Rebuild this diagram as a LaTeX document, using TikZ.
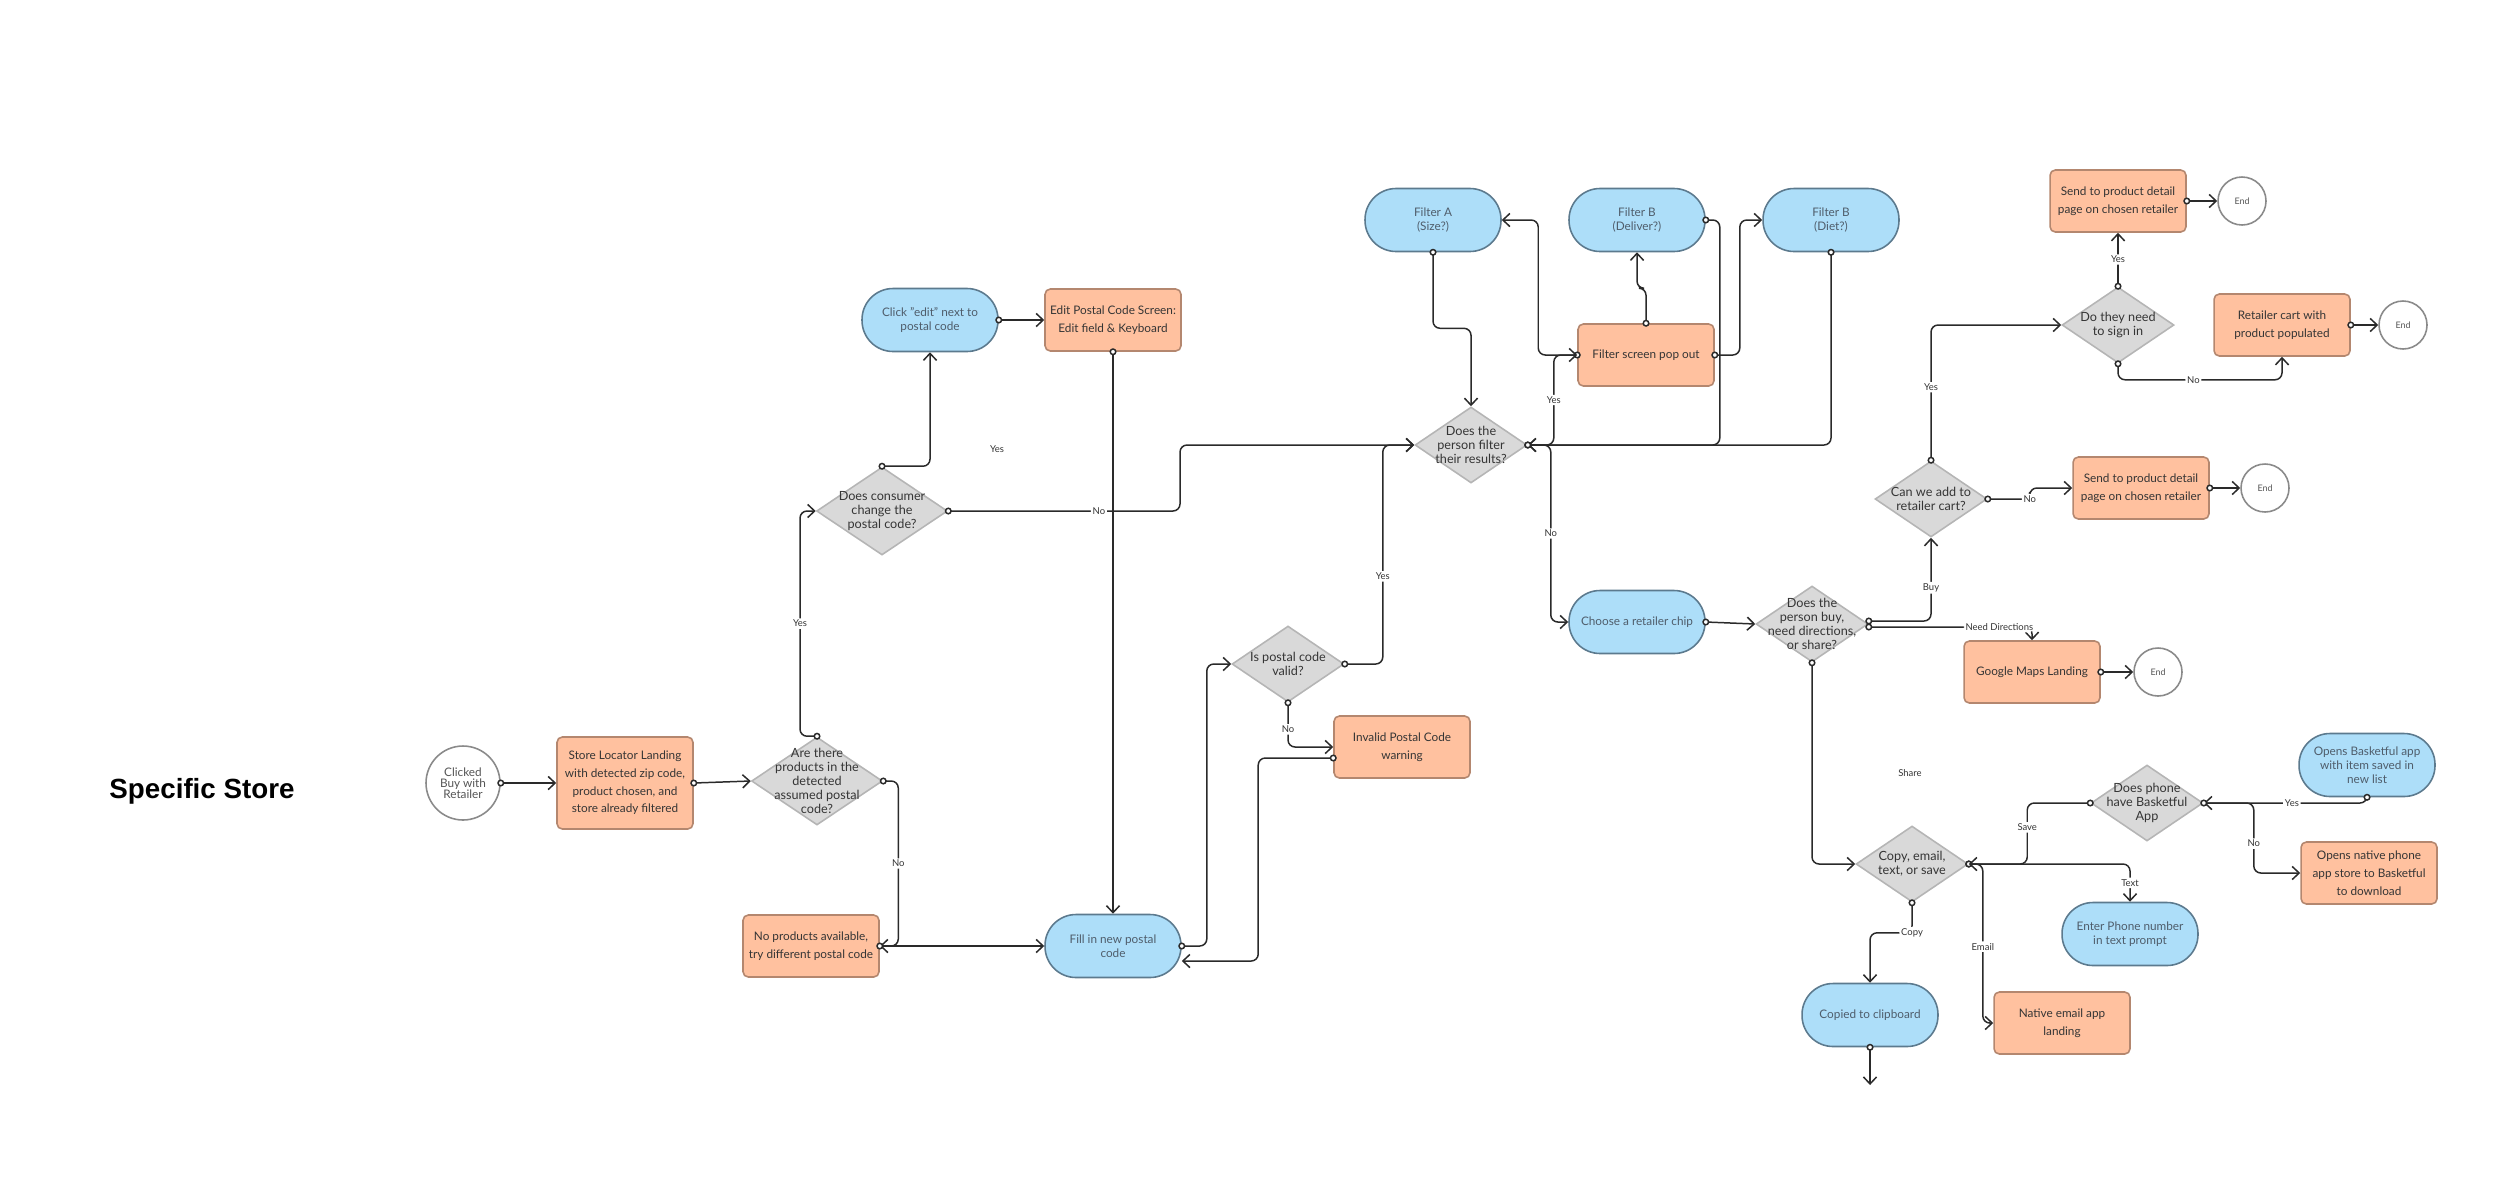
\documentclass[tikz,border=0pt]{standalone}
\usepackage{fontspec}
\setmainfont{Lato}
\newfontfamily\headfont{Liberation Sans}
\usetikzlibrary{shapes.geometric,arrows.meta,calc}

\definecolor{procfill}{HTML}{FFC19F}
\definecolor{procline}{HTML}{B4876F}
\definecolor{termfill}{HTML}{ADDEF9}
\definecolor{termline}{HTML}{5C7A8E}
\definecolor{termtxt}{HTML}{4F5D6B}
\definecolor{decfill}{HTML}{D9D9D9}
\definecolor{decline}{HTML}{B5B5B5}
\definecolor{txt}{HTML}{353535}
\definecolor{linec}{HTML}{2A2A2A}
\definecolor{ringc}{HTML}{8A8A8A}
\definecolor{ringtxt}{HTML}{555555}

\tikzset{
    proc/.style={rectangle, rounded corners=3pt, draw=procline, fill=procfill, line width=0.9pt,
        minimum width=2.72cm, minimum height=1.24cm, inner sep=1pt, align=center, text=txt,
        font=\fontsize{6.7}{10.1}\selectfont},
    term/.style={rectangle, rounded corners=0.62cm, draw=termline, fill=termfill, line width=0.9pt,
        minimum width=2.72cm, minimum height=1.26cm, inner sep=1pt, align=center, text=termtxt,
        font=\fontsize{6.7}{8.1}\selectfont},
    dec/.style={diamond, draw=decline, fill=decfill, line width=0.9pt,
        minimum width=2.24cm, minimum height=1.52cm, inner sep=0pt},
    bigdec/.style={dec, minimum width=2.62cm, minimum height=1.76cm},
    dtxt/.style={align=center, text=txt, inner sep=0pt, font=\fontsize{7.2}{8}\selectfont},
    startc/.style={circle, draw=ringc, fill=white, line width=0.9pt, minimum size=1.48cm,
        inner sep=0pt, align=center, text=ringtxt, font=\fontsize{6.7}{6.3}\selectfont},
    stopc/.style={circle, draw=ringc, fill=white, line width=0.9pt, minimum size=0.96cm,
        inner sep=0pt, text=ringtxt, font=\fontsize{5.1}{6}\selectfont},
    elab/.style={fill=white, inner sep=1pt, text=txt, font=\fontsize{5.4}{6}\selectfont},
    flow/.style={draw=linec, line width=0.85pt, rounded corners=4pt, shorten <=-2pt,
        {Circle[fill=white, length=4pt]}-{Straight Barb[length=4pt, width=7.5pt]}}
}

\begin{document}
\begin{tikzpicture}[x=0.02cm, y=-0.02cm]
    \useasboundingbox (0,0) rectangle (2500,1184);
    % 标题
    \node[font=\headfont\bfseries\fontsize{15.8}{18}\selectfont] (title) at (202,791) {Specific Store};

    % 左侧: 邮编
    \node[startc] (start) at (463,783) {Clicked\\Buy with\\Retailer};
    \node[proc, minimum height=1.84cm] (locator) at (625,783)
        {Store Locator Landing\\with detected zip code,\\product chosen, and\\store already filtered};
    \node[bigdec, label={[dtxt]center:{Are there\\products in the\\detected\\assumed postal\\code?}}] (qprod) at (817,781) {};
    \node[proc] (noprod) at (811,946) {No products available,\\try different postal code};
    \node[bigdec, label={[dtxt]center:{Does consumer\\change the\\postal code?}}] (qchange) at (882,511) {};
    \node[term] (clickedit) at (930,320) {Click "edit" next to\\postal code};
    \node[proc] (editpc) at (1113,320) {Edit Postal Code Screen:\\Edit field \& Keyboard};
    \node[term] (fillin) at (1113,946) {Fill in new postal\\code};
    \node[dec, label={[dtxt]center:{Is postal code\\valid?}}] (qvalid) at (1288,664) {};
    \node[proc] (invalid) at (1402,747) {Invalid Postal Code\\warning};
    \node[elab] (yesfloat) at (997,449) {Yes};

    % 筛选
    \node[dec, label={[dtxt]center:{Does the\\person filter\\their results?}}] (qfilter) at (1471,445) {};
    \node[term] (filta) at (1433,220) {Filter A\\(Size?)};
    \node[term] (filtb) at (1637,220) {Filter B\\(Deliver?)};
    \node[term] (filtc) at (1831,220) {Filter B\\(Diet?)};
    \node[proc] (popout) at (1646,355) {Filter screen pop out};
    \node[term] (chip) at (1637,622) {Choose a retailer chip};

    % 右侧: 购买
    \node[dec, label={[dtxt]center:{Does the\\person buy,\\need directions,\\or share?}}] (qbuy) at (1812,624) {};
    \node[dec, label={[dtxt]center:{Can we add to\\retailer cart?}}] (qcart) at (1931,499) {};
    \node[proc] (detail) at (2141,488) {Send to product detail\\page on chosen retailer};
    \node[stopc] (endb) at (2265,488) {End};
    \node[proc] (maps) at (2032,672) {Google Maps Landing};
    \node[stopc] (endc) at (2158,672) {End};
    \node[dec, label={[dtxt]center:{Do they need\\to sign in}}] (qsign) at (2118,325) {};
    \node[proc] (detailtop) at (2118,201) {Send to product detail\\page on chosen retailer};
    \node[stopc] (enda) at (2242,201) {End};
    \node[proc] (cart) at (2282,325) {Retailer cart with\\product populated};
    \node[stopc] (endd) at (2403,325) {End};

    % 分享
    \node[elab] (sharelab) at (1910,773) {Share};
    \node[dec, label={[dtxt]center:{Copy, email,\\text, or save}}] (qshare) at (1912,864) {};
    \node[term] (copied) at (1870,1015) {Copied to clipboard};
    \coordinate (copyend) at (1870,1085);
    \node[proc] (email) at (2062,1023) {Native email app\\landing};
    \node[term] (phone) at (2130,934) {Enter Phone number\\in text prompt};
    \node[dec, label={[dtxt]center:{Does phone\\have Basketful\\App}}] (qapp) at (2147,803) {};
    \node[term] (opensapp) at (2367,765) {Opens Basketful app\\with item saved in\\new list};
    \node[proc] (appstore) at (2369,873) {Opens native phone\\app store to Basketful\\to download};

    % 连线
    \draw[flow] (start.east) -- (locator.west);
    \draw[flow] (locator.east) -- (qprod.west);
    \draw[flow] (qprod.north) -- ++(-17,0) |- node[elab, pos=0.25] {Yes} (qchange.west);
    \draw[flow] (qprod.east) -- ++(15,0) |- node[elab, pos=0.25] {No} (noprod.east);
    \draw[flow] (noprod.east) -- (fillin.west);
    \draw[flow] (qchange.north) -| (clickedit.south);
    \draw[flow] (clickedit.east) -- (editpc.west);
    \draw[flow] (editpc.south) -- (fillin.north);
    \draw[flow] (qchange.east) -- node[elab, pos=0.65] {No} (1180,511) |- (qfilter.west);
    \draw[flow] (fillin.east) -- ++(25,0) |- (qvalid.west);
    \draw[flow] (qvalid.south) |- node[elab, pos=0.3] {No} (invalid.west);
    \draw[flow] ($(invalid.west)+(0,11)$) -- ++(-75,0) |- ($(fillin.east)+(0,15)$);
    \draw[flow] (qvalid.east) -- ++(38,0) |- node[elab, pos=0.2] {Yes} (qfilter.west);

    \draw[flow] (filta.south) -- ++(0,76) -| (qfilter.north);
    \draw[flow] (popout.west) -- ++(-39,0) |- (filta.east);
    \draw[flow] (popout.north) -- ++(0,-35) -| (filtb.south);
    \draw[flow] (popout.east) -- ++(25,0) |- (filtc.west);
    \draw[flow] (filtb.east) -- ++(14,0) |- (qfilter.east);
    \draw[flow] (filtc.south) |- (qfilter.east);
    \draw[flow] (qfilter.east) -- ++(26,0) |- node[elab, pos=0.25] {Yes} (popout.west);
    \draw[flow] (qfilter.east) -- ++(23,0) |- node[elab, pos=0.25] {No} (chip.west);

    \draw[flow] (chip.east) -- (qbuy.west);
    \draw[flow] ($(qbuy.east)+(0,-3)$) -| node[elab, pos=0.7] {Buy} (qcart.south);
    \draw[flow] ($(qbuy.east)+(0,3)$) -| node[elab, pos=0.4] {Need Directions} (maps.north);
    \draw[flow] (qbuy.south) |- (qshare.west);
    \draw[flow] (qcart.east) -- ++(42,0) node[elab] {No} |- (detail.west);
    \draw[flow] (detail.east) -- (endb.west);
    \draw[flow] (maps.east) -- (endc.west);
    \draw[flow] (qcart.north) |- node[elab, pos=0.27] {Yes} (qsign.west);
    \draw[flow] (qsign.north) -- node[elab] {Yes} (detailtop.south);
    \draw[flow] (qsign.south) -- ++(0,16) -| node[elab, pos=0.23] {No} (cart.south);
    \draw[flow] (detailtop.east) -- (enda.west);
    \draw[flow] (cart.east) -- (endd.west);

    \draw[flow] (qshare.south) -- ++(0,30) node[elab] {Copy} -| (copied.north);
    \draw[flow] (copied.south) -- (copyend);
    \draw[flow] (qshare.east) -- ++(14,0) |- node[elab, pos=0.26] {Email} (email.west);
    \draw[flow] (qshare.east) -| node[elab, pos=0.75] {Text} (phone.north);
    \draw[flow] (qapp.west) -- ++(-63,0) |- node[elab, pos=0.2] {Save} (qshare.east);
    \draw[flow] (opensapp.south) |- node[elab, pos=0.73] {Yes} (qapp.east);
    \draw[flow] (qapp.east) -- ++(50,0) |- node[elab, pos=0.29] {No} (appstore.west);
\end{tikzpicture}
\end{document}
